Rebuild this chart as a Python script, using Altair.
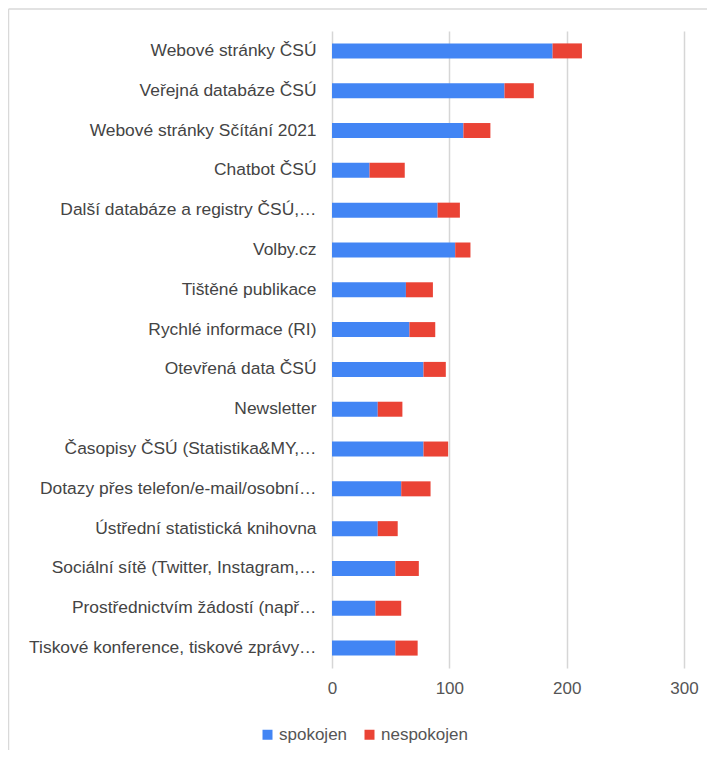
import altair as alt
import pandas as pd

categories = [
    "Webové stránky ČSÚ",
    "Veřejná databáze ČSÚ",
    "Webové stránky Sčítání 2021",
    "Chatbot ČSÚ",
    "Další databáze a registry ČSÚ,…",
    "Volby.cz",
    "Tištěné publikace",
    "Rychlé informace (RI)",
    "Otevřená data ČSÚ",
    "Newsletter",
    "Časopisy ČSÚ (Statistika&MY,…",
    "Dotazy přes telefon/e-mail/osobní…",
    "Ústřední statistická knihovna",
    "Sociální sítě (Twitter, Instagram,…",
    "Prostřednictvím žádostí (např…",
    "Tiskové konference, tiskové zprávy…",
]
spokojen = [188, 147, 112, 32, 90, 105, 63, 66, 78, 39, 78, 59, 39, 54, 37, 54]
nespokojen = [25, 25, 23, 30, 19, 13, 23, 22, 19, 21, 21, 25, 17, 20, 22, 19]
series = ["spokojen", "nespokojen"]
colors = ["#4285F4", "#EA4335"]
x_ticks = [0, 100, 200, 300]

rows = []
for i, c in enumerate(categories):
    rows.append({"category": c, "series": series[0], "value": spokojen[i], "ord": 0})
    rows.append({"category": c, "series": series[1], "value": nespokojen[i], "ord": 1})
df = pd.DataFrame(rows)

FONT = "Liberation Sans"

bars = alt.Chart(df).mark_bar(size=15).encode(
    y=alt.Y(
        "category:N",
        sort=categories,
        scale=alt.Scale(paddingInner=0, paddingOuter=0),
        axis=alt.Axis(
            title=None, ticks=False, domain=False, labelFontSize=17.4,
            labelColor="#444444", labelPadding=16, labelLimit=320, labelFont=FONT,
        ),
    ),
    x=alt.X(
        "value:Q",
        stack="zero",
        scale=alt.Scale(domain=[0, 300], nice=False),
        axis=alt.Axis(
            values=x_ticks, title=None, ticks=False, domain=False, grid=True,
            gridColor="#d6d6d6", gridWidth=1.5, labelFontSize=17,
            labelColor="#555555", labelPadding=12, labelFont=FONT,
            labelFlush=False,
        ),
    ),
    color=alt.Color(
        "series:N",
        scale=alt.Scale(domain=series, range=colors),
        legend=alt.Legend(
            title=None, orient="none", legendX=-73, legendY=695,
            direction="horizontal", symbolType="square", symbolSize=100,
            symbolStrokeWidth=0, labelFontSize=17, labelColor="#555555",
            labelFont=FONT, labelOffset=3, columnPadding=13, padding=0,
        ),
    ),
    order=alt.Order("ord:Q"),
)

frame_df = pd.DataFrame({"k": [0]})
left_line = alt.Chart(frame_df).mark_rule(color="#d9d9d9", strokeWidth=1.5).encode(
    x=alt.value(-323.5), y=alt.value(-22), y2=alt.value(720)
)
top_line = alt.Chart(frame_df).mark_rule(color="#d9d9d9", strokeWidth=1.5).encode(
    x=alt.value(-323.5), x2=alt.value(380), y=alt.value(-22)
)

chart = alt.layer(bars, left_line, top_line).properties(
    width=352,
    height=637,
    autosize=alt.AutoSizeParams(type="none"),
    padding={"left": 324, "top": 23, "right": 23, "bottom": 82},
).configure(font=FONT).configure_view(stroke=None)

chart.save("out.html", embed_options={"renderer": "svg", "actions": False})
